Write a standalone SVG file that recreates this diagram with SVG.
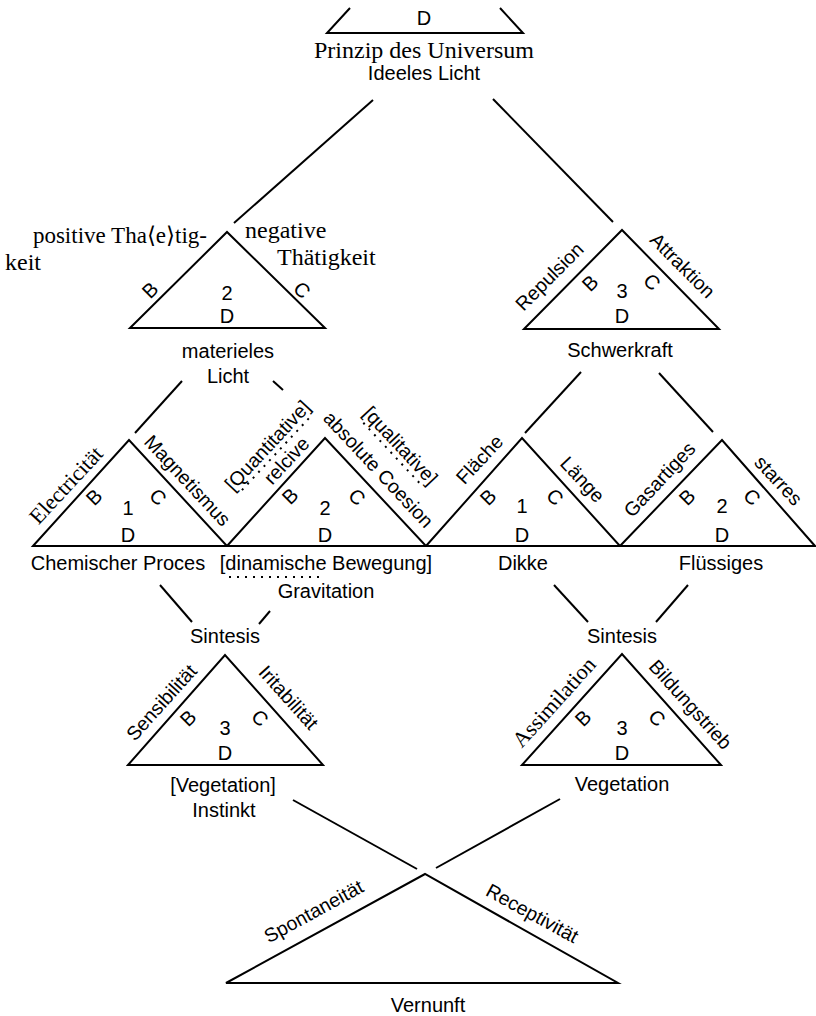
<svg xmlns="http://www.w3.org/2000/svg" width="816" height="1016" viewBox="0 0 816 1016">
<style>
.s{font-family:"Liberation Sans",Arial,sans-serif;font-size:20px;fill:#000}
.l{font-family:"Liberation Sans",Arial,sans-serif;font-size:19.5px;fill:#000}
.r{font-family:"Liberation Serif","Times New Roman",serif;font-size:24px;fill:#000}
.q{font-family:"Liberation Serif","Times New Roman",serif;font-size:22px;fill:#000}
.m{text-anchor:middle}
.t{fill:none;stroke:#000;stroke-width:2;stroke-linejoin:miter}
.c line{stroke:#000;stroke-width:2}
.d{stroke:#000;stroke-width:2;stroke-dasharray:2 6}
</style>
<rect width="816" height="1016" fill="#fff"/>
<g id="n-top">
<path class="t" d="M350,8 L327,33 L523,33 L500,8"/>
<text class="s m" x="424" y="25">D</text>
<text class="r m" x="424" y="58">Prinzip des Universum</text>
<text class="s m" x="424" y="80">Ideeles Licht</text>
</g>
<g id="n-2a">
<polygon class="t" points="130,328 227,232 325,328"/>
<text class="r" x="207" y="243" text-anchor="end" style="font-size:23px">positive Tha⟨e⟩tig-</text>
<text class="r" x="5" y="270">keit</text>
<text class="r" x="245" y="238">negative</text>
<text class="r" x="277" y="265">Thätigkeit</text>
<text class="s m" transform="translate(150,290) rotate(-45)" y="7">B</text>
<text class="s m" transform="translate(302,290) rotate(45)" y="7">C</text>
<text class="s m" x="227" y="300">2</text>
<text class="s m" x="227" y="323">D</text>
<text class="s m" x="228" y="358">materieles</text>
<text class="s m" x="228" y="383">Licht</text>
</g>
<g id="n-3a">
<polygon class="t" points="524,329 622,230 719,329"/>
<text class="l m" transform="translate(550,277) rotate(-45)" y="6">Repulsion</text>
<text class="l m" transform="translate(682,266) rotate(45)" y="6">Attraktion</text>
<text class="s m" transform="translate(590,283) rotate(-45)" y="7">B</text>
<text class="s m" transform="translate(652,282) rotate(45)" y="7">C</text>
<text class="s m" x="622" y="298">3</text>
<text class="s m" x="622" y="323">D</text>
<text class="s m" x="620" y="357">Schwerkraft</text>
</g>
<g id="n-row3">
<line x1="33" y1="546" x2="815" y2="546" stroke="#000" stroke-width="2"/>
</g>
<g id="n-1b">
<polygon class="t" points="33,546 129,440 227,546"/>
<text class="q m" transform="translate(67,486) rotate(-47)" y="6">Electricität</text>
<text class="l m" transform="translate(187,481) rotate(47)" y="6">Magnetismus</text>
<text class="s m" transform="translate(94,497) rotate(-45)" y="7">B</text>
<text class="s m" transform="translate(158,497) rotate(45)" y="7">C</text>
<text class="s m" x="128" y="515">1</text>
<text class="s m" x="128" y="542">D</text>
<text class="s m" x="118" y="570">Chemischer Proces</text>
</g>
<g id="n-2b">
<polygon class="t" points="227,546 325,438 426,546"/>
<g transform="translate(268,446) rotate(-47)">
<text class="l m" y="6">[Quantitative]</text>
<line class="d" x1="-50" y1="11" x2="50" y2="11"/>
</g>
<text class="l m" transform="translate(287,461) rotate(-47)" y="6">relcive</text>
<g transform="translate(400,446) rotate(47)">
<text class="l m" y="6">[qualitative]</text>
<line class="d" x1="-42" y1="11" x2="42" y2="11"/>
</g>
<text class="l m" transform="translate(378,470) rotate(47)" y="6">absolute Coesion</text>
<text class="s m" transform="translate(290,496) rotate(-45)" y="7">B</text>
<text class="s m" transform="translate(357,497) rotate(45)" y="7">C</text>
<text class="s m" x="325" y="515">2</text>
<text class="s m" x="325" y="542">D</text>
<text class="s m" x="326" y="570">[dinamische Bewegung]</text>
<line class="d" x1="229" y1="577" x2="322" y2="577"/>
<text class="s m" x="326" y="598">Gravitation</text>
</g>
<g id="n-3b">
<polygon class="t" points="426,546 522,438 620,546"/>
<text class="l m" transform="translate(480,460) rotate(-47)" y="6">Fläche</text>
<text class="l m" transform="translate(582,480) rotate(47)" y="6">Länge</text>
<text class="s m" transform="translate(488,497) rotate(-45)" y="7">B</text>
<text class="s m" transform="translate(555,497) rotate(45)" y="7">C</text>
<text class="s m" x="522" y="513">1</text>
<text class="s m" x="522" y="542">D</text>
<text class="s m" x="523" y="570">Dikke</text>
</g>
<g id="n-4b">
<polygon class="t" points="620,546 722,440 815,546"/>
<text class="l m" transform="translate(660,480) rotate(-47)" y="6">Gasartiges</text>
<text class="l m" transform="translate(778,481) rotate(47)" y="6">starres</text>
<text class="s m" transform="translate(687,497) rotate(-45)" y="7">B</text>
<text class="s m" transform="translate(752,497) rotate(45)" y="7">C</text>
<text class="s m" x="722" y="513">2</text>
<text class="s m" x="722" y="542">D</text>
<text class="s m" x="721" y="570">Flüssiges</text>
</g>
<g id="n-3c">
<polygon class="t" points="128,765 225,655 323,765"/>
<text class="s m" x="225" y="643">Sintesis</text>
<text class="l m" transform="translate(162,703) rotate(-48)" y="6">Sensibilität</text>
<text class="l m" transform="translate(288,698) rotate(48)" y="6">Iritabilität</text>
<text class="s m" transform="translate(188,718) rotate(-45)" y="7">B</text>
<text class="s m" transform="translate(260,718) rotate(45)" y="7">C</text>
<text class="s m" x="225" y="735">3</text>
<text class="s m" x="225" y="760">D</text>
<text class="s m" x="223" y="792">[Vegetation]</text>
<text class="s m" x="224" y="817">Instinkt</text>
</g>
<g id="n-3d">
<polygon class="t" points="522,765 622,654 721,765"/>
<text class="s m" x="622" y="643">Sintesis</text>
<text class="q m" transform="translate(555,703) rotate(-48)" y="6">Assimilation</text>
<text class="l m" transform="translate(690,705) rotate(48)" y="6">Bildungstrieb</text>
<text class="s m" transform="translate(583,718) rotate(-45)" y="7">B</text>
<text class="s m" transform="translate(657,718) rotate(45)" y="7">C</text>
<text class="s m" x="622" y="735">3</text>
<text class="s m" x="622" y="760">D</text>
<text class="s m" x="622" y="791">Vegetation</text>
</g>
<g id="n-bottom">
<polygon class="t" points="226,983 425,874 618,983"/>
<text class="l m" transform="translate(314,912) rotate(-28.7)" y="6">Spontaneität</text>
<text class="l m" transform="translate(532,914) rotate(28.7)" y="6">Receptivität</text>
<text class="s m" x="428" y="1012">Vernunft</text>
</g>
<g id="connectors" class="c">
<line x1="373" y1="100" x2="234" y2="223"/>
<line x1="493" y1="99" x2="613" y2="222"/>
<line x1="182" y1="381" x2="135" y2="433"/>
<line x1="273" y1="381" x2="283" y2="390"/>
<line x1="581" y1="372" x2="525" y2="433"/>
<line x1="659" y1="373" x2="713" y2="432"/>
<line x1="160" y1="585" x2="192" y2="622"/>
<line x1="270" y1="611" x2="259" y2="624"/>
<line x1="554" y1="585" x2="588" y2="622"/>
<line x1="688" y1="585" x2="656" y2="622"/>
<line x1="293" y1="800" x2="417" y2="869"/>
<line x1="560" y1="799" x2="436" y2="868"/>
</g>
</svg>
